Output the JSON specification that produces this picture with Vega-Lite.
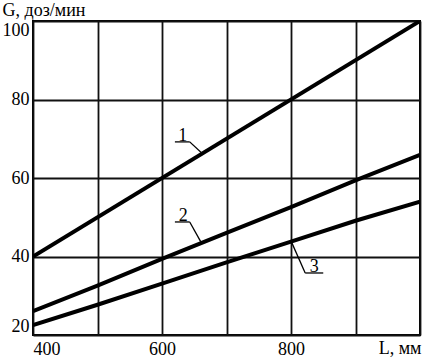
{
  "$schema": "https://vega.github.io/schema/vega-lite/v6.json",
  "width": 387,
  "height": 314,
  "autosize": "none",
  "padding": {"left": 33, "top": 21, "right": 4, "bottom": 24},
  "background": "white",
  "config": {
    "view": {"stroke": "black", "strokeWidth": 2},
    "font": "Liberation Serif",
    "axis": {
      "labelFont": "Liberation Serif",
      "titleFont": "Liberation Serif",
      "labelFontSize": 18,
      "titleFontSize": 18,
      "titleFontWeight": "normal",
      "labelColor": "black",
      "titleColor": "black",
      "grid": true,
      "gridColor": "#111",
      "gridWidth": 1.8,
      "gridOpacity": 1,
      "ticks": false,
      "domain": false
    }
  },
  "datasets": {
    "curves": [
      {"L": 400, "G": 40, "series": "1"},
      {"L": 1000, "G": 100, "series": "1"},
      {"L": 400, "G": 26.1, "series": "2"},
      {"L": 500, "G": 32.6, "series": "2"},
      {"L": 600, "G": 39.4, "series": "2"},
      {"L": 700, "G": 46.0, "series": "2"},
      {"L": 800, "G": 52.6, "series": "2"},
      {"L": 900, "G": 59.4, "series": "2"},
      {"L": 1000, "G": 65.9, "series": "2"},
      {"L": 400, "G": 22.5, "series": "3"},
      {"L": 500, "G": 27.7, "series": "3"},
      {"L": 600, "G": 33.1, "series": "3"},
      {"L": 700, "G": 38.5, "series": "3"},
      {"L": 800, "G": 43.8, "series": "3"},
      {"L": 900, "G": 49.1, "series": "3"},
      {"L": 1000, "G": 54.0, "series": "3"}
    ],
    "leaders": [
      {"x1": 620, "y1": 69.2, "x2": 643, "y2": 69.2},
      {"x1": 643, "y1": 69.2, "x2": 662, "y2": 66.3},
      {"x1": 620, "y1": 48.8, "x2": 643, "y2": 48.8},
      {"x1": 643, "y1": 48.8, "x2": 660, "y2": 43.8},
      {"x1": 822, "y1": 35.8, "x2": 850, "y2": 35.8},
      {"x1": 822, "y1": 35.8, "x2": 801, "y2": 43.6}
    ],
    "labels": [
      {"x": 632, "y": 70.8, "text": "1"},
      {"x": 633, "y": 50.4, "text": "2"},
      {"x": 836, "y": 37.4, "text": "3"}
    ]
  },
  "layer": [
    {
      "data": {"name": "curves"},
      "mark": {"type": "line", "color": "black", "strokeWidth": 4, "clip": true},
      "encoding": {
        "x": {
          "field": "L", "type": "quantitative",
          "scale": {"domain": [400, 1000], "nice": false, "zero": false},
          "axis": {
            "values": [400, 500, 600, 700, 800, 900, 1000],
            "labelExpr": "(datum.value == 400 || datum.value == 600 || datum.value == 800) ? datum.label : ''",
            "labelFlush": true,
            "labelPadding": 5,
            "title": "L, мм",
            "titleX": 388,
            "titleY": 18,
            "titleAlign": "right",
            "titleBaseline": "alphabetic"
          }
        },
        "y": {
          "field": "G", "type": "quantitative",
          "scale": {"domain": [20, 100], "nice": false, "zero": false},
          "axis": {
            "values": [20, 40, 60, 80, 100],
            "labelFlush": true,
            "labelPadding": 4,
            "title": "G, доз/мин",
            "titleAngle": 0,
            "titleX": -31,
            "titleY": -6,
            "titleAlign": "left",
            "titleBaseline": "alphabetic"
          }
        },
        "detail": {"field": "series"}
      }
    },
    {
      "data": {"name": "leaders"},
      "mark": {"type": "rule", "color": "black", "strokeWidth": 1.3},
      "encoding": {
        "x": {"field": "x1", "type": "quantitative"},
        "y": {"field": "y1", "type": "quantitative"},
        "x2": {"field": "x2"},
        "y2": {"field": "y2"}
      }
    },
    {
      "data": {"name": "labels"},
      "mark": {"type": "text", "font": "Liberation Serif", "fontSize": 18, "color": "black", "baseline": "middle", "align": "center"},
      "encoding": {
        "x": {"field": "x", "type": "quantitative"},
        "y": {"field": "y", "type": "quantitative"},
        "text": {"field": "text"}
      }
    }
  ]
}
